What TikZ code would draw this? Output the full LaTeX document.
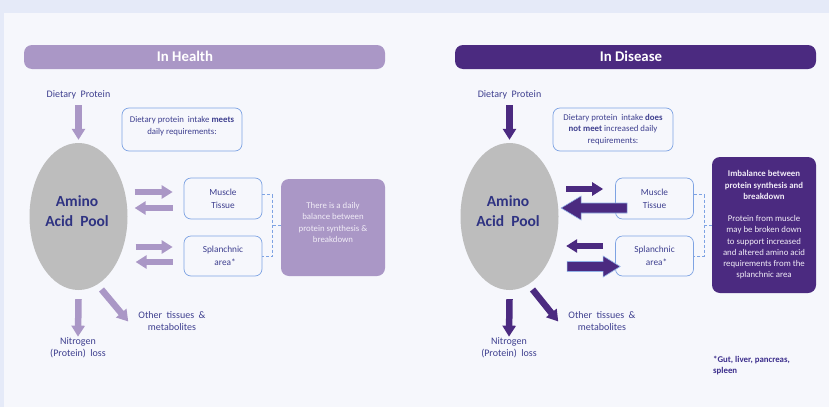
\documentclass[tikz,border=0pt]{standalone}
\usepackage{fontspec}
\setmainfont{Carlito}
\usetikzlibrary{calc,shapes.geometric,arrows.meta}

\definecolor{pageblue}{HTML}{E5EAF8}
\definecolor{panelbg}{HTML}{F6F7FC}
\definecolor{healthpurple}{HTML}{AA97C6}
\definecolor{diseasepurple}{HTML}{4B2A80}
\definecolor{poolgrey}{HTML}{BDBDBD}
\definecolor{labelnavy}{HTML}{3E3F8F}
\definecolor{poolnavy}{HTML}{2F3382}
\definecolor{boxblue}{HTML}{7EA3E3}
\definecolor{paletext}{HTML}{F1ECF7}
\definecolor{footpurple}{HTML}{3C2E8C}

\begin{document}
\begin{tikzpicture}[x=1pt, y=-1pt,
    lbl/.style={font=\fontsize{10}{12}\selectfont, text=labelnavy, align=center, inner sep=0pt},
    headbar/.style={rounded corners=8pt, minimum width=361pt, minimum height=24pt, inner sep=0pt},
    headtxt/.style={font=\fontsize{14.8}{16}\selectfont\bfseries, text=white, inner sep=0pt},
    pool/.style={ellipse, fill=poolgrey, minimum width=98pt, minimum height=147pt, inner sep=0pt},
    pooltxt/.style={font=\fontsize{15.5}{20}\selectfont\bfseries, text=poolnavy, align=center, inner sep=0pt},
    roundbox/.style={draw=boxblue, line width=0.7pt, rounded corners=7pt, fill=panelbg, align=center,
        text=labelnavy, font=\fontsize{8.8}{11.8}\selectfont, inner sep=0pt},
    tissue/.style={roundbox, minimum width=78pt, minimum height=41pt, font=\fontsize{9.3}{12.8}\selectfont},
    balance/.style={rounded corners=8pt, align=center, inner sep=0pt, minimum width=104pt,
        text=paletext, font=\fontsize{8.8}{11.2}\selectfont},
    thinarr/.style={line width=6.5pt, -{Triangle[width=13pt,length=11pt]}},
    bigarr/.style={fill=diseasepurple, draw=boxblue!85, line width=0.6pt, line join=miter},
    dashlink/.style={draw=boxblue, densely dashed, line width=0.6pt},
    foot/.style={font=\fontsize{8.8}{11}\selectfont\bfseries, text=footpurple, align=left, inner sep=0pt}]

    % 背景
    \useasboundingbox (0,0) rectangle (829,407);
    \fill[pageblue] (0,0) rectangle (829,407);
    \fill[panelbg] (4,13) rectangle (829,407);

    % 見出し
    \node[headbar, fill=healthpurple] (hBar) at (204.5,57) {};
    \node[headtxt] (hTitle) at (185,56.5) {In Health};
    \node[headbar, fill=diseasepurple] (dBar) at (635.5,57) {};
    \node[headtxt] (dTitle) at (631,56.5) {In Disease};

    % ===== In Health =====
    \node[lbl] (hDiet) at (78.5,95) {Dietary\ \ Protein};
    \node[pool] (hPool) at (78.5,216.5) {};
    \node[pooltxt] (hPoolTxt) at (77,211) {Amino\\Acid\ \ Pool};

    \node[roundbox, minimum width=120pt, minimum height=43pt] (hNote) at (182,129.5)
        {Dietary protein\ \ intake \textbf{meets}\\daily requirements:\\[-3pt]};
    \node[tissue] (hMus) at (223,198.5) {Muscle\\Tissue};
    \node[tissue, minimum height=40pt] (hSpl) at (223,256) {Splanchnic\\\ \ area*};
    \node[balance, fill=healthpurple, minimum height=97pt] (hBal) at (333,227.5) {};
    \node[balance] (hBalTxt) at (333,222.5)
        {There is a daily\\balance between\\protein synthesis \&\\breakdown};

    \node[lbl] (hNit) at (78,348) {Nitrogen\\(Protein)\ \ loss};
    \node[lbl] (hOther) at (172,321.5) {Other\ \ tissues\ \ \&\\metabolites};

    % 矢印
    \draw[thinarr, healthpurple] ([yshift=-6pt]hDiet.south) -- ([yshift=3pt]hPool.north);
    \draw[thinarr, healthpurple] ($(hMus.west)+(-49,-6.5)$) -- ($(hMus.west)+(-11,-6.5)$);
    \draw[thinarr, healthpurple] ($(hMus.west)+(-11,9.5)$) -- ($(hMus.west)+(-49,9.5)$);
    \draw[thinarr, healthpurple] ($(hSpl.west)+(-48,-9)$) -- ($(hSpl.west)+(-11,-9)$);
    \draw[thinarr, healthpurple] ($(hSpl.west)+(-11,6)$) -- ($(hSpl.west)+(-48,6)$);
    \draw[thinarr, healthpurple] ([yshift=-9pt]hPool.south) -- ([yshift=1pt]hNit.north);
    \draw[thinarr, healthpurple] ($(hPool.center)+(23,73)$) -- ([xshift=-10pt]hOther.west);

    % 点線
    \draw[dashlink] ([yshift=4pt]hMus.east) -- ++(10,0) |- (hSpl.east);
    \draw[dashlink] ([yshift=2pt]hBal.west) -- ++(-9,0);

    % ===== In Disease =====
    \node[lbl] (dDiet) at (509.5,95) {Dietary\ \ Protein};
    \node[pool] (dPool) at (509.5,216.5) {};
    \node[pooltxt] (dPoolTxt) at (508,211) {Amino\\Acid\ \ Pool};

    \node[roundbox, minimum width=120pt, minimum height=43pt] (dNote) at (613,129.5)
        {Dietary protein\ \ intake \textbf{does}\\\textbf{not meet} increased daily\\requirements:};
    \node[tissue] (dMus) at (654.5,198.5) {Muscle\\Tissue};
    \node[tissue, minimum height=40pt] (dSpl) at (654.5,256) {Splanchnic\\\ \ area*};
    \node[balance, fill=diseasepurple, minimum height=136pt] (dBal) at (764,225)
        {\textbf{Imbalance between}\\\textbf{protein synthesis and}\\\textbf{breakdown}\\[11.2pt]
         Protein from muscle\\may be broken down\\to support increased\\and altered amino acid\\requirements from the\\splanchnic area};

    \node[lbl] (dNit) at (509,348) {Nitrogen\\(Protein)\ \ loss};
    \node[lbl] (dOther) at (602,321.5) {Other\ \ tissues\ \ \&\\metabolites};
    \node[foot, anchor=north west] (dFoot) at (713,356) {*Gut, liver, pancreas,\\spleen};

    % 矢印
    \draw[thinarr, diseasepurple] ([yshift=-6pt]dDiet.south) -- ([yshift=3pt]dPool.north);
    \draw[thinarr, diseasepurple] ($(dMus.west)+(-49,-9.5)$) -- ($(dMus.west)+(-12,-9.5)$);
    \draw[thinarr, diseasepurple] ($(dSpl.west)+(-12,-10)$) -- ($(dSpl.west)+(-49,-10)$);
    \draw[bigarr] ($(dMus.west)+(12,4.5)$) -- ++(-46,0) -- ++(0,-7) -- ++(-20,12)
        -- ++(20,12) -- ++(0,-7) -- ++(46,0) -- cycle;
    \draw[bigarr] ($(dSpl.west)+(-48,5.5)$) -- ++(36,0) -- ++(0,-5.5) -- ++(17,10.5)
        -- ++(-17,10.5) -- ++(0,-5.5) -- ++(-36,0) -- cycle;
    \draw[thinarr, diseasepurple] ([yshift=-9pt]dPool.south) -- ([yshift=1pt]dNit.north);
    \draw[thinarr, diseasepurple] ($(dPool.center)+(23,73)$) -- ([xshift=-10pt]dOther.west);

    % 点線
    \draw[dashlink] ([yshift=4pt]dMus.east) -- ++(10,0) |- (dSpl.east);
    \draw[dashlink] (dBal.west) -- ++(-8.5,0);

\end{tikzpicture}
\end{document}
